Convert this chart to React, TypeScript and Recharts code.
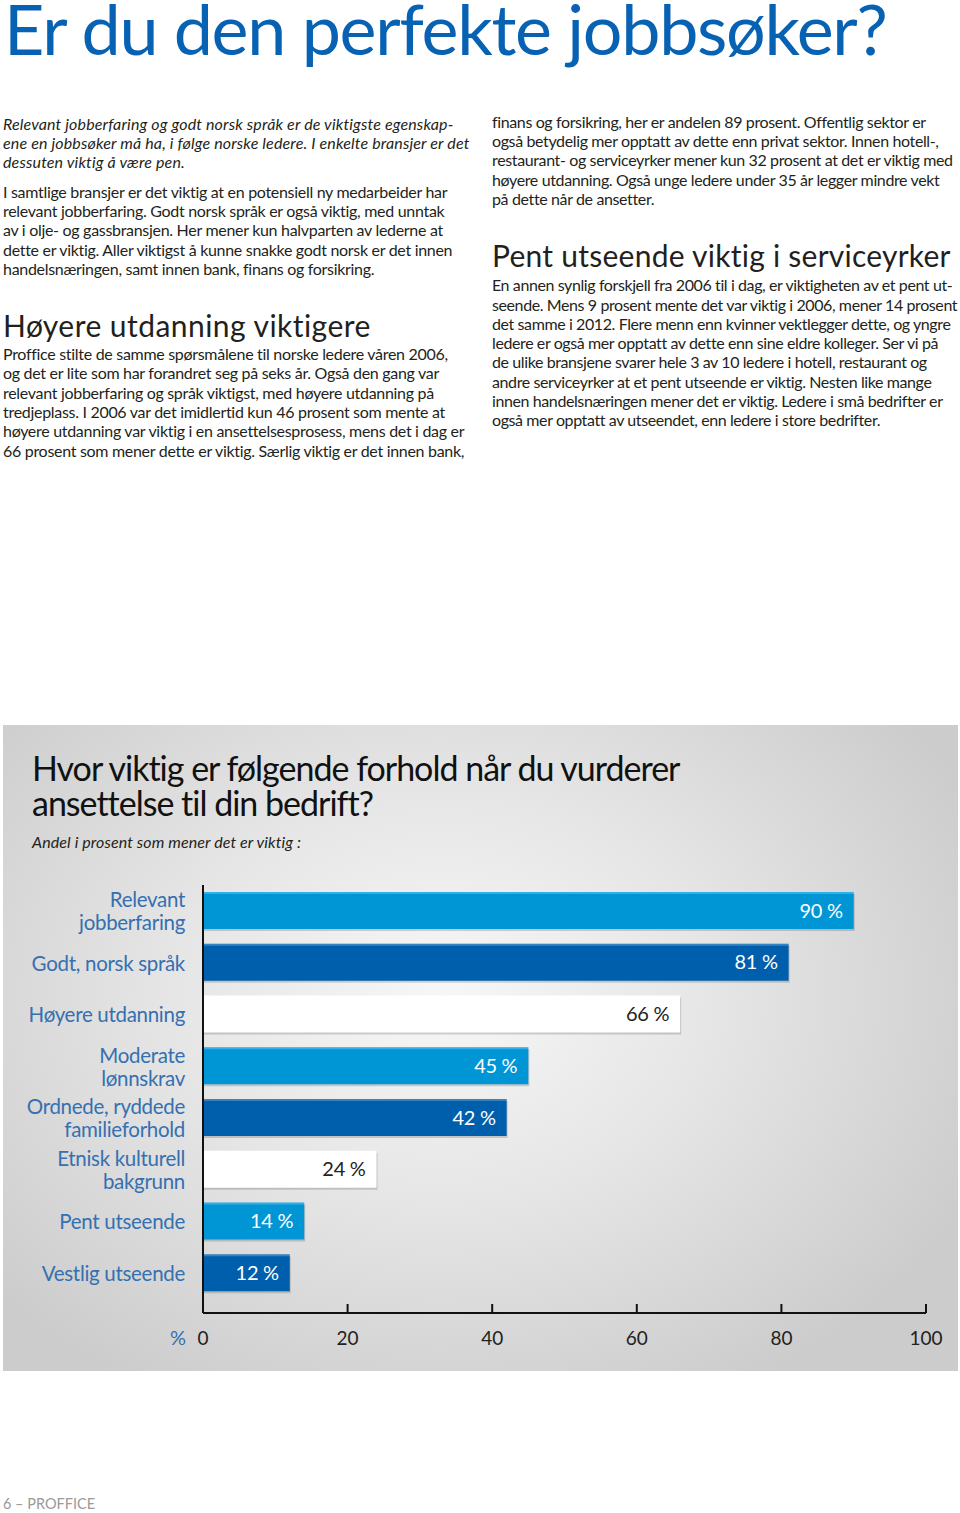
import { BarChart, Bar, XAxis, YAxis, LabelList } from 'recharts';

// chart data
const categories = [
  'Relevant\njobberfaring',
  'Godt, norsk språk',
  'Høyere utdanning',
  'Moderate\nlønnskrav',
  'Ordnede, ryddede\nfamilieforhold',
  'Etnisk kulturell\nbakgrunn',
  'Pent utseende',
  'Vestlig utseende',
];
const values = [90, 81, 66, 45, 42, 24, 14, 12];
const xTicks = [0, 20, 40, 60, 80, 100];

const palette = ['#0096d6', '#005fad', '#ffffff'];
const FONT = 'Lato, "Noto Sans", sans-serif';

const data = categories.map((name, i) => ({ name, value: values[i] }));

// page text
const introItalic = [
  'Relevant jobberfaring og godt norsk språk er de viktigste egenskap-',
  'ene en jobbsøker må ha, i følge norske ledere. I enkelte bransjer er det',
  'dessuten viktig å være pen.',
];
const introBody = [
  'I samtlige bransjer er det viktig at en potensiell ny medarbeider har',
  'relevant jobberfaring. Godt norsk språk er også viktig, med unntak',
  'av i olje- og gassbransjen. Her mener kun halvparten av lederne at',
  'dette er viktig. Aller viktigst å kunne snakke godt norsk er det innen',
  'handelsnæringen, samt innen bank, finans og forsikring.',
];
const educationBody = [
  'Proffice stilte de samme spørsmålene til norske ledere våren 2006,',
  'og det er lite som har forandret seg på seks år. Også den gang var',
  'relevant jobberfaring og språk viktigst, med høyere utdanning på',
  'tredjeplass. I 2006 var det imidlertid kun 46 prosent som mente at',
  'høyere utdanning var viktig i en ansettelsesprosess, mens det i dag er',
  '66 prosent som mener dette er viktig. Særlig viktig er det innen bank,',
];
const rightBody = [
  'finans og forsikring, her er andelen 89 prosent. Offentlig sektor er',
  'også betydelig mer opptatt av dette enn privat sektor. Innen hotell-,',
  'restaurant- og serviceyrker mener kun 32 prosent at det er viktig med',
  'høyere utdanning. Også unge ledere under 35 år legger mindre vekt',
  'på dette når de ansetter.',
];
const looksBody = [
  'En annen synlig forskjell fra 2006 til i dag, er viktigheten av et pent ut-',
  'seende. Mens 9 prosent mente det var viktig i 2006, mener 14 prosent',
  'det samme i 2012. Flere menn enn kvinner vektlegger dette, og yngre',
  'ledere er også mer opptatt av dette enn sine eldre kolleger. Ser vi på',
  'de ulike bransjene svarer hele 3 av 10 ledere i hotell, restaurant og',
  'andre serviceyrker at et pent utseende er viktig. Nesten like mange',
  'innen handelsnæringen mener det er viktig. Ledere i små bedrifter er',
  'også mer opptatt av utseendet, enn ledere i store bedrifter.',
];

interface LinesProps {
  x: number;
  base: number;
  step?: number;
  size: number;
  lines: string[];
  italic?: boolean;
  color?: string;
  spacing?: number;
  lh?: number;
}

// each line positioned by its baseline (Lato: baseline ~ top + lh/2 + 0.387em)
function Lines({ x, base, step = 0, size, lines, italic, color = '#231f20', spacing = 0, lh }: LinesProps) {
  const lineH = lh ?? size;
  return (
    <>
      {lines.map((line, i) => (
        <div
          key={i}
          style={{
            position: 'absolute',
            left: x,
            top: base + i * step - lineH / 2 - 0.387 * size,
            fontSize: size,
            lineHeight: `${lineH}px`,
            fontStyle: italic ? 'italic' : 'normal',
            color,
            letterSpacing: spacing,
            whiteSpace: 'nowrap',
          }}
        >
          {line}
        </div>
      ))}
    </>
  );
}

function CategoryTick({ x, y, payload }: any) {
  const parts = String(payload.value).split('\n');
  return (
    <text
      textAnchor="end"
      fill="#3570b0"
      fontSize={20.5}
      fontFamily={FONT}
      letterSpacing={-0.3}
    >
      {parts.map((p, i) => (
        <tspan key={i} x={x} y={y + 8 + (i - (parts.length - 1) / 2) * 23}>
          {p}
        </tspan>
      ))}
    </text>
  );
}

function ValueTick({ x, y, payload, index }: any) {
  return (
    <g>
      <line x1={x} x2={x} y1={y - 9} y2={y} stroke="#111" strokeWidth={2} />
      <text x={x} y={y + 32} textAnchor="middle" fill="#222" fontSize={19} fontFamily={FONT}>
        {payload.value}
      </text>
      {index === 0 && (
        <text x={x - 25} y={y + 32} textAnchor="middle" fill="#3570b0" fontSize={20} fontFamily={FONT}>
          %
        </text>
      )}
    </g>
  );
}

function BarShape({ x, y, width, height, index }: any) {
  const fill = palette[index % 3];
  const white = fill === '#ffffff';
  return (
    <g>
      <rect x={x + 1} y={y + 2} width={width} height={height} fill="rgba(0,0,0,0.16)" />
      <rect x={x} y={y} width={width} height={height} fill={fill} />
      {!white && <rect x={x} y={y} width={width} height={2} fill="rgba(255,255,255,0.22)" />}
    </g>
  );
}

function BarValue({ x, y, width, height, value, index }: any) {
  const white = palette[index % 3] === '#ffffff';
  return (
    <text
      x={x + width - 11}
      y={y + height / 2 + 7}
      textAnchor="end"
      fill={white ? '#222' : '#ffffff'}
      fontSize={20}
      fontFamily={FONT}
      letterSpacing={-0.3}
    >
      {value} %
    </text>
  );
}

export default function App() {
  return (
    <div style={{ position: 'relative', width: 960, height: 1513, background: '#fff', fontFamily: FONT, overflow: 'hidden' }}>
      <style>{'body{margin:0}'}</style>

      {/* heading */}
      <Lines x={4} base={56} size={70} lh={57} lines={['Er du den perfekte jobbsøker?']} color="#0862b4" spacing={-1.3} />

      {/* left column */}
      <Lines x={3} base={130} step={19.3} size={16} lines={introItalic} italic spacing={0.15} />
      <Lines x={3} base={198} step={19.3} size={16} lines={introBody} spacing={-0.3} />
      <Lines x={3} base={337} size={30} lines={['Høyere utdanning viktigere']} spacing={0.45} />
      <Lines x={3} base={360} step={19.4} size={16} lines={educationBody} spacing={-0.3} />

      {/* right column */}
      <Lines x={492} base={128} step={19.3} size={16} lines={rightBody} spacing={-0.37} />
      <Lines x={492} base={266.5} size={30} lines={['Pent utseende viktig i serviceyrker']} spacing={0.25} />
      <Lines x={492} base={291.5} step={19.25} size={16} lines={looksBody} spacing={-0.4} />

      {/* chart panel */}
      <div
        style={{
          position: 'absolute',
          left: 3,
          top: 725,
          width: 955,
          height: 646,
          background:
            'radial-gradient(ellipse 62% 70% at 46% 42%, #f7f7f7 0%, #e6e6e6 45%, #cccccc 100%)',
        }}
      />
      <Lines
        x={32}
        base={781.5}
        step={35}
        size={34}
        lh={30}
        lines={['Hvor viktig er følgende forhold når du vurderer', 'ansettelse til din bedrift?']}
        color="#111"
        spacing={-1}
      />
      <Lines x={32} base={848} size={16} lines={['Andel i prosent som mener det er viktig :']} italic spacing={0.1} />

      <div style={{ position: 'absolute', left: 0, top: 870 }}>
        <BarChart
          width={960}
          height={500}
          data={data}
          layout="vertical"
          margin={{ top: 15, right: 34, bottom: 12, left: 0 }}
          barSize={37}
        >
          <XAxis
            type="number"
            domain={[0, 100]}
            ticks={xTicks}
            axisLine={{ stroke: '#111', strokeWidth: 2 }}
            tickLine={false}
            tickSize={0}
            tickMargin={0}
            tick={<ValueTick />}
            height={45}
            interval={0}
          />
          <YAxis
            type="category"
            dataKey="name"
            width={203}
            axisLine={{ stroke: '#111', strokeWidth: 2 }}
            tickLine={false}
            tickSize={0}
            tickMargin={18}
            tick={<CategoryTick />}
            padding={{ top: 0, bottom: 14 }}
            interval={0}
          />
          <Bar dataKey="value" shape={<BarShape />} isAnimationActive={false}>
            <LabelList dataKey="value" content={<BarValue />} />
          </Bar>
        </BarChart>
      </div>

      {/* footer */}
      <Lines x={3} base={1510} size={14.5} lines={['6 – PROFFICE']} color="#9a9a9a" />
    </div>
  );
}
